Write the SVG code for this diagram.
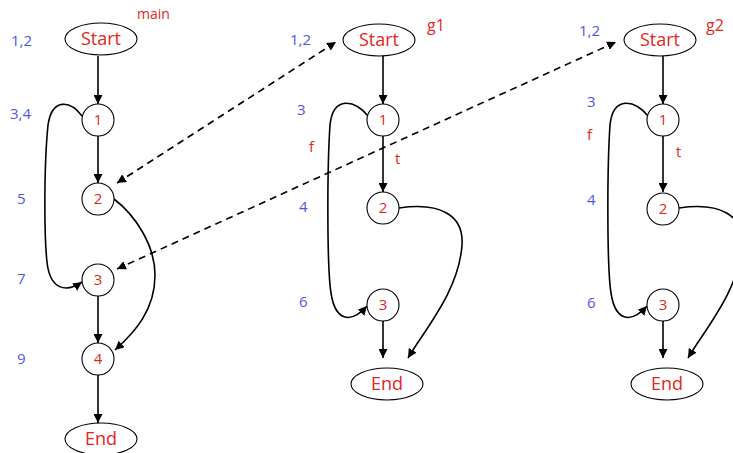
<svg xmlns="http://www.w3.org/2000/svg" width="733" height="453" viewBox="0 0 733 453">
<style>
.n{fill:#fff;stroke:#000;stroke-width:1.1}
.t{font-family:"Open Sans","DejaVu Sans",sans-serif;fill:#e3261b;text-anchor:middle}
.b{font-family:"Open Sans","DejaVu Sans",sans-serif;fill:#4a5ae0;font-size:15px}
.r{font-family:"Open Sans","DejaVu Sans",sans-serif;fill:#e3261b;font-size:15px}
.e{fill:none;stroke:#000;stroke-width:1.6}
.d{fill:none;stroke:#000;stroke-width:1.6;stroke-dasharray:7,5}
</style>
<defs>
<marker id="ah" viewBox="0 0 10 10" refX="10" refY="5" markerWidth="9" markerHeight="9" markerUnits="userSpaceOnUse" orient="auto-start-reverse">
<path d="M0,0 L10,5 L0,10 z" fill="#000"/>
</marker>
</defs>
<rect width="733" height="453" fill="#fff"/>
<g id="connectors">
<path class="e" d="M98,56 L98,104" marker-end="url(#ah)"/>
<path class="e" d="M98,136 L98,183" marker-end="url(#ah)"/>
<path class="e" d="M98,296 L98,343" marker-end="url(#ah)"/>
<path class="e" d="M98,375 L98,423" marker-end="url(#ah)"/>
<path class="e" d="M82,116 C70,100 52,98 48,125 C44,165 44,235 47,262 C50,290 66,293 82,282" marker-end="url(#ah)"/>
<path class="e" d="M114,199 C135,215 155,245 155,275 C155,310 135,332 115,350" marker-end="url(#ah)"/>
<path class="e" d="M383,56 L383,104" marker-end="url(#ah)"/>
<path class="e" d="M383,136 L383,192" marker-end="url(#ah)"/>
<path class="e" d="M383,321 L383,358" marker-end="url(#ah)"/>
<path class="e" d="M368,116 C356,100 333,95 330,125 C327,170 327,268 331,293 C335,320 350,325 367,306" marker-end="url(#ah)"/>
<path class="e" d="M399,208 C440,202 464,215 462,245 C459,290 426,328 408,358" marker-end="url(#ah)"/>
<path class="e" d="M663,56 L663,104" marker-end="url(#ah)"/>
<path class="e" d="M663,136 L663,192" marker-end="url(#ah)"/>
<path class="e" d="M663,321 L663,358" marker-end="url(#ah)"/>
<path class="e" d="M648,116 C636,100 613,95 610,125 C607,170 607,268 611,293 C615,320 630,325 647,306" marker-end="url(#ah)"/>
<path class="e" d="M679,208 C720,202 744,215 742,245 C739,290 706,328 688,358" marker-end="url(#ah)"/>
<path class="d" d="M117,183 L336,42" marker-start="url(#ah)" marker-end="url(#ah)"/>
<path class="d" d="M117,269 L616,42" marker-start="url(#ah)" marker-end="url(#ah)"/>
</g>
<g id="main-labels">
<text class="r" x="137" y="19" style="font-size:14px">main</text>
<text class="b" x="11" y="46">1,2</text>
<text class="b" x="10" y="119">3,4</text>
<text class="b" x="17" y="204">5</text>
<text class="b" x="17" y="284">7</text>
<text class="b" x="17" y="364">9</text>
</g>
<g id="main-start"><ellipse class="n" cx="101" cy="39" rx="36" ry="16"/><text class="t" x="101" y="45" font-size="18">Start</text></g>
<g id="main-1"><circle class="n" cx="98" cy="120" r="16"/><text class="t" x="98" y="125" font-size="15">1</text></g>
<g id="main-2"><circle class="n" cx="98" cy="199" r="16"/><text class="t" x="98" y="204" font-size="15">2</text></g>
<g id="main-3"><circle class="n" cx="98" cy="280" r="16"/><text class="t" x="98" y="285" font-size="15">3</text></g>
<g id="main-4"><circle class="n" cx="98" cy="359" r="16"/><text class="t" x="98" y="364" font-size="15">4</text></g>
<g id="main-end"><ellipse class="n" cx="101" cy="439" rx="36" ry="16"/><text class="t" x="101" y="445" font-size="18">End</text></g>
<g id="g1-labels">
<text class="r" x="427" y="31" style="font-size:16px">g1</text>
<text class="b" x="290" y="45">1,2</text>
<text class="b" x="297" y="115">3</text>
<text class="r" x="309" y="152">f</text>
<text class="r" x="395" y="164">t</text>
<text class="b" x="299" y="212">4</text>
<text class="b" x="299" y="307">6</text>
</g>
<g id="g1-start"><ellipse class="n" cx="379" cy="40" rx="36" ry="16"/><text class="t" x="379" y="46" font-size="18">Start</text></g>
<g id="g1-1"><circle class="n" cx="383" cy="120" r="16"/><text class="t" x="383" y="125" font-size="15">1</text></g>
<g id="g1-2"><circle class="n" cx="383" cy="208" r="16"/><text class="t" x="383" y="213" font-size="15">2</text></g>
<g id="g1-3"><circle class="n" cx="383" cy="305" r="16"/><text class="t" x="383" y="310" font-size="15">3</text></g>
<g id="g1-end"><ellipse class="n" cx="387" cy="384" rx="36" ry="16"/><text class="t" x="387" y="390" font-size="18">End</text></g>
<g id="g2-labels">
<text class="r" x="706" y="31" style="font-size:16px">g2</text>
<text class="b" x="579" y="36">1,2</text>
<text class="b" x="587" y="107">3</text>
<text class="r" x="587" y="140">f</text>
<text class="r" x="676" y="157">t</text>
<text class="b" x="587" y="205">4</text>
<text class="b" x="587" y="308">6</text>
</g>
<g id="g2-start"><ellipse class="n" cx="660" cy="40" rx="36" ry="16"/><text class="t" x="660" y="46" font-size="18">Start</text></g>
<g id="g2-1"><circle class="n" cx="663" cy="120" r="16"/><text class="t" x="663" y="125" font-size="15">1</text></g>
<g id="g2-2"><circle class="n" cx="663" cy="209" r="16"/><text class="t" x="663" y="214" font-size="15">2</text></g>
<g id="g2-3"><circle class="n" cx="663" cy="305" r="16"/><text class="t" x="663" y="310" font-size="15">3</text></g>
<g id="g2-end"><ellipse class="n" cx="667" cy="384" rx="36" ry="16"/><text class="t" x="667" y="390" font-size="18">End</text></g>
</svg>
